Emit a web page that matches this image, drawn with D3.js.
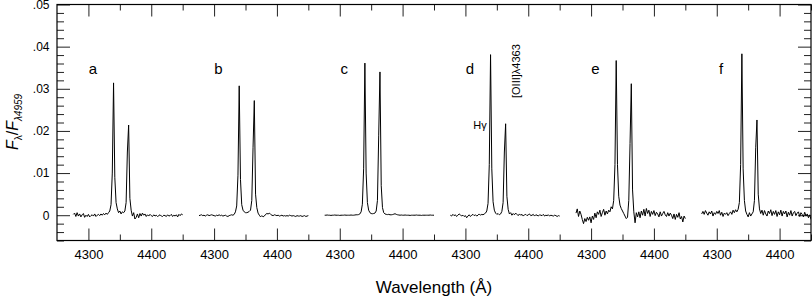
<!DOCTYPE html>
<html>
<head>
<meta charset="utf-8">
<script src="https://d3js.org/d3.v7.min.js"></script>
<style>
  body { margin: 0; background: #fff; }
  svg { display: block; font-family: "Liberation Sans", Arial, Helvetica, sans-serif; }
  .spec { fill: none; stroke: #000; stroke-width: 1; stroke-linejoin: round; }
  .tick line { stroke: #222; stroke-width: 1; }
  .tick text { fill: #000; }
</style>
</head>
<body>
<script>
//panel letters, one spectrum per panel
var panels = ["a", "b", "c", "d", "e", "f"];

//wavelength grid of each spectrum (Angstrom)
var lamStart = 4276,
    lamStep = 2;

//flux F_lambda / F_4959, in units of 0.001, sampled on the grid above
var fluxA = [0.2, 0.5, -0.3, 0.6, -0.2, 0.3, -0.4, 0.1, 0.4, -0.5,
  0.0, -0.3, 0.2, -0.4, -0.1, 0.1, -0.2, 0.3, -0.3, 0.0,
  0.2, -0.1, 0.3, 0.0, 0.4, 0.1, 0.5, 0.2, 0.6, 1.0,
  2.5, 10.0, 31.4, 9.0, 3.0, 1.5, 0.6, 1.0, 0.3, 0.8,
  0.6, 1.0, 3.0, 15.0, 21.4, 4.0, 1.2, -0.2, 0.6, -0.9,
  -0.5, 0.3, -0.6, 0.4, -0.2, 0.5, 0.0, 0.3, -0.3, 0.1,
  -0.2, 0.2, -0.1, -0.3, 0.1, -0.2, 0.0, -0.3, -0.1, 0.1,
  -0.2, -0.3, 0.0, -0.1, -0.3, 0.1, -0.2, -0.1, 0.2, -0.3,
  0.0, -0.2, 0.1, -0.4, 0.2, -0.1, 0.3, 0.1];
var fluxB = [-0.1, 0.0, 0.1, -0.1, 0.0, -0.2, 0.0, 0.1, -0.1, 0.0,
  0.1, 0.0, -0.1, -0.2, 0.0, -0.1, 0.1, -0.1, 0.0, -0.2,
  -0.1, 0.0, -0.2, -0.3, -0.1, 0.0, 0.1, 0.0, 0.2, 0.8,
  2.2, 9.5, 30.7, 8.5, 2.5, 1.2, 0.8, 0.6, 0.6, 0.7,
  0.9, 1.2, 3.5, 16.0, 27.2, 5.0, 1.8, 0.5, 0.0, -0.4,
  -0.1, -0.4, -0.2, 0.2, 0.4, 0.3, 0.5, 0.2, 0.0, -0.1,
  0.1, 0.0, -0.1, 0.0, -0.2, -0.1, 0.0, -0.2, -0.1, -0.2,
  -0.1, -0.2, 0.0, -0.1, -0.2, -0.1, -0.2, -0.3, -0.1, -0.2,
  -0.2, -0.1, -0.3, -0.2, -0.1, -0.3, -0.2, -0.1];
var fluxC = [0.0, 0.0, 0.05, 0.0, 0.0, -0.05, 0.0, 0.0, 0.05, 0.0,
  0.0, 0.0, -0.05, 0.0, 0.0, 0.0, 0.05, 0.0, 0.0, 0.0,
  0.0, 0.05, 0.0, 0.0, 0.05, 0.1, 0.1, 0.15, 0.3, 0.8,
  2.6, 11.0, 36.1, 10.0, 3.0, 1.2, 0.6, 0.4, 0.35, 0.4,
  0.5, 1.0, 3.5, 19.0, 34.0, 7.0, 1.8, 0.6, 0.3, 0.2,
  0.15, 0.2, 0.1, 0.1, 0.15, 0.25, 0.35, 0.2, 0.1, 0.05,
  0.0, 0.05, 0.0, 0.0, 0.05, 0.0, 0.0, 0.0, -0.05, 0.0,
  0.0, 0.0, 0.0, 0.05, 0.0, 0.0, 0.0, -0.05, 0.0, 0.0,
  0.0, 0.0, 0.0, 0.0, 0.05, 0.0, 0.0, 0.0];
var fluxD = [0.0, -0.2, 0.2, -0.1, 0.1, -0.3, 0.0, 0.3, 0.1, -0.2,
  0.0, -0.3, -0.1, -0.6, -0.2, 0.1, -0.3, 0.0, 0.2, -0.1,
  0.1, -0.2, 0.0, 0.3, 0.0, 0.2, 0.1, 0.3, 0.5, 1.0,
  2.8, 12.0, 38.1, 11.0, 3.2, 1.2, 0.5, 0.2, 0.4, 0.1,
  0.3, 0.9, 3.0, 15.0, 21.7, 4.5, 1.4, 0.3, 0.6, 0.0,
  0.4, 0.1, 0.5, 0.2, -0.1, 0.3, 0.0, 0.2, -0.2, 0.1,
  0.2, -0.1, 0.1, 0.3, -0.1, 0.0, 0.2, -0.2, 0.1, 0.0,
  -0.2, 0.1, 0.0, -0.1, 0.2, -0.2, 0.0, -0.1, 0.1, -0.2,
  0.0, -0.1, -0.2, 0.0, -0.1, -0.3, -0.1, -0.2];
var fluxE = [0.5, 1.5, -0.3, 1.0, 0.2, -1.0, -2.0, -0.8, -1.5, -0.5,
  -1.2, -0.4, -1.8, -0.2, -1.0, 0.5, -0.6, 0.8, 0.2, 1.2,
  -0.3, 0.6, 1.4, 0.0, 1.0, 0.3, 1.2, 0.8, 2.0, 1.5,
  3.5, 12.0, 36.7, 12.0, 4.5, 2.4, 1.6, 1.0, 0.4, -0.2,
  -0.8, -0.5, 3.5, 17.0, 31.2, 6.0, 0.8, -1.8, 0.6, -0.4,
  0.8, -0.6, 1.0, 0.0, 1.4, -0.2, 1.6, 0.4, 1.2, -0.3,
  0.9, 0.2, 1.1, -0.1, 0.7, 0.3, -0.4, 0.8, -0.2, 0.4,
  0.9, 0.1, -0.3, 0.6, -0.2, 0.5, 0.0, -0.8, 0.3, -1.0,
  0.2, -0.5, 0.6, -0.9, -0.3, -1.6, -0.2, -0.8];
var fluxF = [0.3, 0.9, 0.2, 1.1, 0.5, 0.0, 0.8, 0.3, 1.0, -0.2,
  0.6, 0.2, 0.9, 0.4, 1.1, 0.0, 0.7, -0.3, 0.5, 0.2,
  0.6, -0.1, 0.4, 0.8, 0.2, 1.2, 0.6, 1.3, 0.8, 1.4,
  3.0, 12.0, 38.3, 11.0, 3.5, 1.0, 0.2, -0.4, 0.6, -0.2,
  0.3, 0.8, 3.5, 16.0, 22.6, 5.0, 1.5, 0.4, 1.2, 0.0,
  1.1, 0.3, -0.2, 1.0, 0.4, 1.3, -0.1, 0.9, 0.2, 1.1,
  -0.3, 0.8, 0.1, 1.2, -0.2, 0.9, 0.3, 1.0, -0.4, 0.7,
  0.0, 1.1, -0.2, 0.6, 0.9, -0.1, 0.5, 0.8, -0.3, 0.6,
  0.2, -0.4, 0.7, -0.2, 0.3, -0.6, 0.1, -1.0];
var fluxes = [fluxA, fluxB, fluxC, fluxD, fluxE, fluxF];

//axis ticks
var panelOffset = 200; //each panel is shifted by 200 A along one long axis
var xMajorTicks = [4300, 4400],
    xMinorTicks = [4350, 4450];
var yMajorTicks = [0, 0.01, 0.02, 0.03, 0.04, 0.05],
    yTickLabels = ["0", ".01", ".02", ".03", ".04", ".05"];
var yMinorStep = 0.002;

//annotations
var lineLabel1 = "H\u03b3",
    lineLabel2 = "[OIII]\u03bb4363",
    xTitle = "Wavelength (\u00c5)";

window.onload = drawChart();

function drawChart(){
    var width = 812,
        height = 297;
    var left = 57, right = 811, top = 4.5, bottom = 240.5;

    var svg = d3.select("body")
        .append("svg")
        .attr("width", width)
        .attr("height", height);

    //one long x scale, panel i sits at offset i*200
    var x = d3.scaleLinear()
        .domain([4250, 4250 + panelOffset * panels.length])
        .range([left, right]);
    var y = d3.scaleLinear()
        .domain([-0.006, 0.05])
        .range([bottom, top]);

    svg.append("clipPath").attr("id", "plotclip")
        .append("rect")
        .attr("x", left).attr("y", top)
        .attr("width", right - left).attr("height", bottom - top);

    //tick positions on the long axis
    var majX = [], minX = [];
    panels.forEach(function(p, i){
        xMajorTicks.forEach(function(t){ majX.push(t + i * panelOffset); });
        xMinorTicks.forEach(function(t){ minX.push(t + i * panelOffset); });
    });
    var minY = d3.range(-0.006, 0.0501, yMinorStep).filter(function(v){
        return Math.abs(Math.round(v * 100) - v * 100) > 1e-6;
    });

    //bottom axis, major with labels
    svg.append("g")
        .attr("transform", "translate(0," + bottom + ")")
        .call(d3.axisBottom(x).tickValues(majX).tickSizeInner(-12).tickSizeOuter(0).tickPadding(9.5)
            .tickFormat(function(v){ return String(v - Math.floor((v - 4250) / panelOffset) * panelOffset); }))
        .call(function(g){ g.select(".domain").remove(); })
        .selectAll("text").attr("font-size", 13).attr("font-family", null);
    svg.append("g")
        .attr("transform", "translate(0," + bottom + ")")
        .call(d3.axisBottom(x).tickValues(minX).tickSizeInner(-6).tickSizeOuter(0).tickFormat(""))
        .call(function(g){ g.select(".domain").remove(); });

    //top axis, mirrored ticks
    svg.append("g")
        .attr("transform", "translate(0," + top + ")")
        .call(d3.axisTop(x).tickValues(majX).tickSizeInner(-12).tickSizeOuter(0).tickFormat(""))
        .call(function(g){ g.select(".domain").remove(); });
    svg.append("g")
        .attr("transform", "translate(0," + top + ")")
        .call(d3.axisTop(x).tickValues(minX).tickSizeInner(-6).tickSizeOuter(0).tickFormat(""))
        .call(function(g){ g.select(".domain").remove(); });

    //left axis
    svg.append("g")
        .attr("transform", "translate(" + left + ",0)")
        .call(d3.axisLeft(y).tickValues(yMajorTicks).tickSizeInner(-13).tickSizeOuter(0).tickPadding(7.5)
            .tickFormat(function(v, i){ return yTickLabels[i]; }))
        .call(function(g){ g.select(".domain").remove(); })
        .selectAll("text").attr("font-size", 12).attr("font-family", null);
    svg.append("g")
        .attr("transform", "translate(" + left + ",0)")
        .call(d3.axisLeft(y).tickValues(minY).tickSizeInner(-7).tickSizeOuter(0).tickFormat(""))
        .call(function(g){ g.select(".domain").remove(); });

    //right axis
    svg.append("g")
        .attr("transform", "translate(" + right + ",0)")
        .call(d3.axisRight(y).tickValues(yMajorTicks).tickSizeInner(-13).tickSizeOuter(0).tickFormat(""))
        .call(function(g){ g.select(".domain").remove(); });
    svg.append("g")
        .attr("transform", "translate(" + right + ",0)")
        .call(d3.axisRight(y).tickValues(minY).tickSizeInner(-7).tickSizeOuter(0).tickFormat(""))
        .call(function(g){ g.select(".domain").remove(); });

    //frame
    svg.append("rect")
        .attr("x", left).attr("y", top)
        .attr("width", right - left).attr("height", bottom - top)
        .attr("fill", "none")
        .attr("stroke", "#000")
        .attr("stroke-width", 1.2);

    //spectra
    var line = d3.line()
        .x(function(d){ return x(d.lam); })
        .y(function(d){ return y(d.f); });

    var plot = svg.append("g").attr("clip-path", "url(#plotclip)");
    plot.selectAll(".spec")
        .data(fluxes)
        .enter()
        .append("path")
        .attr("class", "spec")
        .attr("d", function(arr, i){
            return line(arr.map(function(v, k){
                return { lam: lamStart + k * lamStep + i * panelOffset, f: v / 1000 };
            }));
        });

    //panel letters
    svg.selectAll(".plabel")
        .data(panels)
        .enter()
        .append("text")
        .attr("class", "plabel")
        .attr("x", function(d, i){ return x(4307 + i * panelOffset); })
        .attr("y", 73.5)
        .attr("text-anchor", "middle")
        .attr("font-size", 15)
        .text(function(d){ return d; });

    //line identifications in panel d
    svg.append("text")
        .attr("x", x(4334 + 3 * panelOffset))
        .attr("y", 129)
        .attr("text-anchor", "end")
        .attr("font-size", 11)
        .text(lineLabel1);
    svg.append("text")
        .attr("transform", "translate(" + (x(4363 + 3 * panelOffset) + 15) + ",98) rotate(-90)")
        .attr("font-size", 11)
        .text(lineLabel2);

    //axis titles
    svg.append("text")
        .attr("x", (left + right) / 2)
        .attr("y", 293)
        .attr("text-anchor", "middle")
        .attr("font-size", 17)
        .text(xTitle);

    var yt = svg.append("text")
        .attr("transform", "translate(18,122) rotate(-90)")
        .attr("text-anchor", "middle");
    yt.append("tspan").attr("font-style", "italic").attr("font-size", 16).text("F");
    yt.append("tspan").attr("font-size", 10).attr("dy", 4).text("\u03bb");
    yt.append("tspan").attr("font-size", 16).attr("dy", -4).text("/");
    yt.append("tspan").attr("font-style", "italic").attr("font-size", 16).text("F");
    yt.append("tspan").attr("font-size", 10).attr("font-style", "italic").attr("dy", 4).text("\u03bb4959");
};
</script>
</body>
</html>
